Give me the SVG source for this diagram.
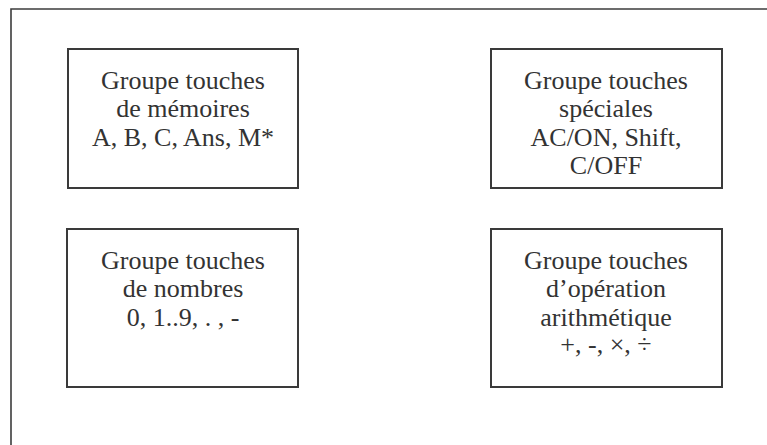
<svg xmlns="http://www.w3.org/2000/svg" width="767" height="445" viewBox="0 0 767 445">
<style>
.frame{fill:none;stroke:#3c3c3c;stroke-width:1.6}
.box{fill:#fff;stroke:#3a3a3a;stroke-width:2}
.t{font-family:"Liberation Serif","Times New Roman",serif;font-size:26px;fill:#333;text-anchor:middle}
</style>
<rect width="767" height="445" fill="#fff"/>
<path class="frame" d="M11,450 V9 H770"/>
<g id="connectors"/>
<g id="memoires">
<rect class="box" x="68" y="49" width="230" height="139"/>
<text class="t" x="183" y="88.5">Groupe touches</text>
<text class="t" x="183" y="117">de mémoires</text>
<text class="t" x="183" y="145.5">A, B, C, Ans, M*</text>
</g>
<g id="speciales">
<rect class="box" x="491" y="49" width="231" height="139"/>
<text class="t" x="606" y="88.5">Groupe touches</text>
<text class="t" x="606" y="117">spéciales</text>
<text class="t" x="606" y="145.5">AC/ON, Shift,</text>
<text class="t" x="606" y="174">C/OFF</text>
</g>
<g id="nombres">
<rect class="box" x="67" y="229" width="231" height="158"/>
<text class="t" x="183" y="268.5">Groupe touches</text>
<text class="t" x="183" y="297">de nombres</text>
<text class="t" x="183" y="325.5">0, 1..9, . , -</text>
</g>
<g id="operation">
<rect class="box" x="491" y="229" width="231" height="158"/>
<text class="t" x="606" y="268.5">Groupe touches</text>
<text class="t" x="606" y="297">d’opération</text>
<text class="t" x="606" y="325.5">arithmétique</text>
<text class="t" x="606" y="353">+, -, ×, ÷</text>
</g>
</svg>
